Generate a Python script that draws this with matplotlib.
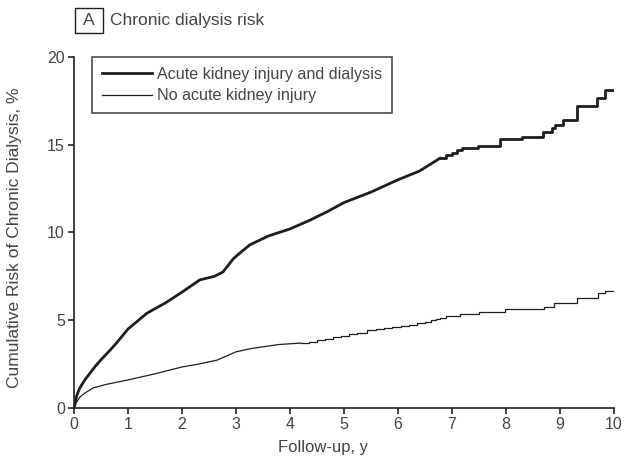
import matplotlib
matplotlib.use("Agg")
import matplotlib.pyplot as plt
from matplotlib.patches import Rectangle

# cumulative risk of chronic dialysis (%)
# acute kidney injury + dialysis: smooth early part, then a staircase
aki_t = [0, 0.05, 0.1, 0.2, 0.3, 0.4, 0.5, 0.67, 0.8, 1.0, 1.35, 1.7, 2.0, 2.33,
         2.6, 2.76, 2.95, 3.1, 3.26, 3.6, 4.0, 4.37, 4.7, 5.0, 5.5, 6.0, 6.4, 6.78]
aki_y = [0, 0.7, 1.1, 1.6, 2.0, 2.4, 2.75, 3.3, 3.75, 4.5, 5.4, 6.0, 6.6, 7.3,
         7.5, 7.75, 8.5, 8.9, 9.3, 9.8, 10.2, 10.7, 11.2, 11.7, 12.3, 13.0, 13.5, 14.23]
aki_step_t = [6.78, 6.9, 7.0, 7.1, 7.18, 7.49, 7.89, 8.29, 8.69, 8.85, 8.91, 9.06,
              9.31, 9.69, 9.83, 10.0]
aki_step_y = [14.23, 14.4, 14.55, 14.7, 14.8, 14.9, 15.31, 15.46, 15.75, 15.94, 16.13, 16.42,
              17.18, 17.66, 18.13, 18.13]

# no acute kidney injury
noaki_t = [0, 0.05, 0.11, 0.2, 0.35, 0.6, 1.0, 1.5, 2.0, 2.3, 2.65, 3.0, 3.3, 3.8, 4.2]
noaki_y = [0, 0.35, 0.63, 0.85, 1.14, 1.35, 1.6, 1.95, 2.34, 2.5, 2.73, 3.2, 3.4, 3.62, 3.7]
noaki_step_t = [4.2, 4.35, 4.5, 4.65, 4.8, 4.95, 5.1, 5.25, 5.43, 5.6, 5.75, 5.9, 6.05,
                6.2, 6.35, 6.5, 6.62, 6.7, 6.78, 6.9, 7.15, 7.5, 7.98, 8.7, 8.9, 9.31,
                9.7, 9.83, 10.0]
noaki_step_y = [3.7, 3.78, 3.86, 3.94, 4.02, 4.1, 4.2, 4.3, 4.44, 4.5, 4.56, 4.62, 4.68,
                4.75, 4.82, 4.9, 5.0, 5.07, 5.13, 5.25, 5.36, 5.45, 5.64, 5.73, 5.98, 6.27,
                6.55, 6.67, 6.67]

labels = ['Acute kidney injury and dialysis', 'No acute kidney injury']
xticks = list(range(0, 11))
yticks = [0, 5, 10, 15, 20]

txt = '#444444'
ink = '#1e1e1e'
plt.rcParams['font.family'] = ['Liberation Sans', 'DejaVu Sans']

fig = plt.figure(figsize=(6.27, 4.59), dpi=100)
ax = fig.add_axes([0.118, 0.111, 0.861, 0.765])

ax.plot(aki_t, aki_y, color=ink, lw=2.0, solid_joinstyle='miter', label=labels[0])
ax.plot(aki_step_t, aki_step_y, drawstyle='steps-post', color=ink, lw=2.0)
ax.plot(noaki_t, noaki_y, color=ink, lw=0.9, label=labels[1])
ax.plot(noaki_step_t, noaki_step_y, drawstyle='steps-post', color=ink, lw=0.9)

ax.set_xlim(0, 10)
ax.set_ylim(0, 20)
ax.set_xticks(xticks)
ax.set_yticks(yticks)
ax.spines['top'].set_visible(False)
ax.spines['right'].set_visible(False)
for s in ['left', 'bottom']:
    ax.spines[s].set_linewidth(1.2)
    ax.spines[s].set_color(ink)
ax.tick_params(direction='out', length=4.5, width=1.2, pad=2, colors=ink,
               labelcolor=txt, labelsize=11.5)
ax.set_xlabel('Follow-up, y', color=txt, fontsize=12)
ax.set_ylabel('Cumulative Risk of Chronic Dialysis, %', color=txt, fontsize=12.5)
ax.xaxis.set_label_coords(0.461, -0.091)
ax.yaxis.set_label_coords(-0.096, 0.484)

leg = ax.legend(loc='upper left', bbox_to_anchor=(0.0333, 1.0), frameon=True, fancybox=False,
                edgecolor=ink, handlelength=3.1, handletextpad=0.35, borderpad=0.6,
                labelspacing=0.42, fontsize=11.6, borderaxespad=0)
leg.get_frame().set_linewidth(1.2)
for t in leg.get_texts():
    t.set_color(txt)

# panel label
fig.text(89 / 627, 1 - 20.5 / 459, 'A', ha='center', va='center', fontsize=12.5, color=txt)
fig.patches.append(Rectangle((75 / 627, 1 - 33 / 459), 28 / 627, 25 / 459,
                             transform=fig.transFigure, fill=False, edgecolor=ink, lw=1.0))
fig.text(110 / 627, 1 - 20.5 / 459, 'Chronic dialysis risk', ha='left', va='center',
         fontsize=12.5, color=txt)

fig.savefig('out.png', dpi=100)
